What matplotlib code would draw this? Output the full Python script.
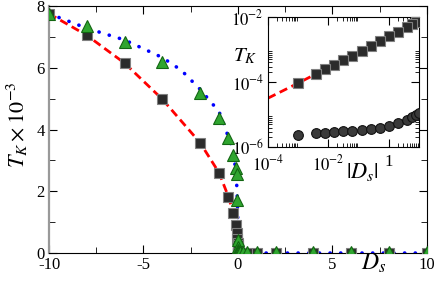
import numpy as np
import matplotlib
matplotlib.use('Agg')
import matplotlib.pyplot as plt
from matplotlib.ticker import FixedLocator, FixedFormatter, MultipleLocator

plt.rcParams['font.family'] = ['Liberation Serif', 'DejaVu Serif']
plt.rcParams['mathtext.fontset'] = 'stix'
plt.rcParams['axes.unicode_minus'] = False

# negative D_s (squares / triangles), T_K in units of 1e-3
d_neg = [-10, -8, -6, -4, -2, -1, -0.5, -0.25, -0.125, -0.0625,
         -0.03125, -0.015625, -0.0078125, -0.00390625, -0.001]
tk_sq_neg = [7.75, 7.05, 6.15, 4.98, 3.57, 2.6, 1.82, 1.3, 0.92, 0.64,
             0.47, 0.33, 0.25, 0.178, 0.093]
tk_tri_neg = [7.75, 7.35, 6.83, 6.18, 5.18, 4.38, 3.72, 3.17, 2.75, 2.55,
              1.72, 0.42, 0.2, 0.1, 0.05]

# positive D_s
d_pos = [0.001, 0.00390625, 0.0078125, 0.015625, 0.03125, 0.0625, 0.125,
         0.25, 0.5, 1, 2, 4, 6, 8, 10]
tk_circ = [2.3e-6, 2.7e-6, 2.7e-6, 2.9e-6, 3.1e-6, 3.1e-6, 3.3e-6, 3.6e-6,
           3.8e-6, 4.4e-6, 5.5e-6, 6.8e-6, 8.3e-6, 9.6e-6, 1.1e-5]
tk_tri_pos = [0.02, 0.02, 0.02, 0.02, 0.02, 0.02, 0.02, 0.02,
              0.02, 0.02, 0.02, 0.02, 0.02, 0.02, 0.02]

# blue dotted curve (main panel)
d_blue = [-10, -8, -6, -4, -3, -2, -1, -0.5, -0.25, -0.1, -0.05, -0.01, 0, 10]
tk_blue = [7.75, 7.28, 6.9, 6.33, 5.92, 5.3, 4.58, 3.75, 3.3, 2.6, 2.05, 1.3, 0, 0]

# red dashed fit in inset (|D_s|, T_K)
d_fit = [1e-4, 1e-3, 1e-2, 1e-1, 1, 10]
tk_fit = [3.2e-5, 9.3e-5, 2.8e-4, 8e-4, 2.4e-3, 7.75e-3]

sq_style = dict(marker='s', ms=6.5, mfc='#2b2b2b', mec='#808080', mew=0.8, ls='none')
tri_style = dict(marker='^', ms=8, mfc='#2fa52f', mec='#126612', mew=0.8, ls='none')
circ_style = dict(marker='o', ms=7, mfc='#3a3a3a', mec='#111111', mew=0.8, ls='none')
red_ls = (0, (3, 1.7))
blue_ls = (0, (0.05, 2.9))

fig = plt.figure(figsize=(4.36, 2.84), dpi=100)
ax = fig.add_axes([0.1124, 0.109, 0.8666, 0.870])

ax.plot(d_neg, tk_sq_neg, color='red', lw=2, ls=red_ls, zorder=2)
ax.plot(d_blue, tk_blue, color='blue', lw=2.6, ls=blue_ls, dash_capstyle='round', zorder=2)
ax.plot(d_neg, tk_sq_neg, zorder=3, **sq_style)
ax.plot(d_pos, np.array(tk_circ) * 1e3, zorder=3, **sq_style)
ax.plot(d_neg, tk_tri_neg, zorder=4, **tri_style)
ax.plot(d_pos, tk_tri_pos, zorder=4, **tri_style)

ax.set_xlim(-10, 10)
ax.set_ylim(0, 8)
ax.xaxis.set_major_locator(FixedLocator([-10, -5, 0, 5, 10]))
ax.xaxis.set_major_formatter(FixedFormatter(['-10', '-5', '0', '5', '10']))
ax.xaxis.set_minor_locator(MultipleLocator(2.5))
ax.yaxis.set_major_locator(MultipleLocator(2))
ax.yaxis.set_minor_locator(MultipleLocator(1))
ax.tick_params(which='both', direction='in', top=True, right=True, labelsize=12, pad=3)
ax.tick_params(which='major', length=6)
ax.tick_params(which='minor', length=4)
ax.spines['left'].set_color('#999999')
ax.spines['left'].set_linewidth(1.6)

fig.text(0.04, 0.56, r'$T_K\times10^{-3}$', rotation=90, fontsize=16,
         ha='center', va='center')
fig.text(0.856, 0.03, r'$D_s$', fontsize=17, ha='center', va='bottom')

# inset
ins = fig.add_axes([0.6147, 0.482, 0.3463, 0.458])
ins.set_xscale('log')
ins.set_yscale('log')
ins.plot(d_fit, tk_fit, color='red', lw=2, ls=red_ls, zorder=2)
ins.plot(np.abs(d_neg), np.array(tk_sq_neg) * 1e-3, zorder=3, **sq_style)
ins.plot(d_pos, tk_circ, zorder=3, **circ_style)
ins.set_xlim(1e-4, 10)
ins.set_ylim(1e-6, 1e-2)

ins.xaxis.set_major_locator(FixedLocator([1e-4, 1e-2, 1]))
ins.xaxis.set_major_formatter(FixedFormatter([r'$10^{-4}$', r'$10^{-2}$', '1']))
ins.xaxis.set_minor_locator(FixedLocator([n * 10.0**k for k in (-4, -2, 0) for n in range(2, 10)]))
ins.yaxis.set_major_locator(FixedLocator([1e-6, 1e-4, 1e-2]))
ins.yaxis.set_major_formatter(FixedFormatter([r'$10^{-6}$', r'$10^{-4}$', r'$10^{-2}$']))
ins.yaxis.set_minor_locator(FixedLocator([n * 10.0**k for k in (-6, -4) for n in range(2, 10)]))
ins.xaxis.set_minor_formatter(FixedFormatter([]))
ins.yaxis.set_minor_formatter(FixedFormatter([]))
ins.tick_params(which='both', direction='in', top=True, right=True, labelsize=12, pad=3)
ins.tick_params(axis='x', which='major', pad=5)
ins.tick_params(which='major', length=6)
ins.tick_params(which='minor', length=3)

fig.text(0.562, 0.80, r'$T_K$', fontsize=15, ha='center', va='center')
fig.text(0.83, 0.395, r'$|D_s|$', fontsize=16, ha='center', va='center')

fig.savefig('out.png', dpi=100)
